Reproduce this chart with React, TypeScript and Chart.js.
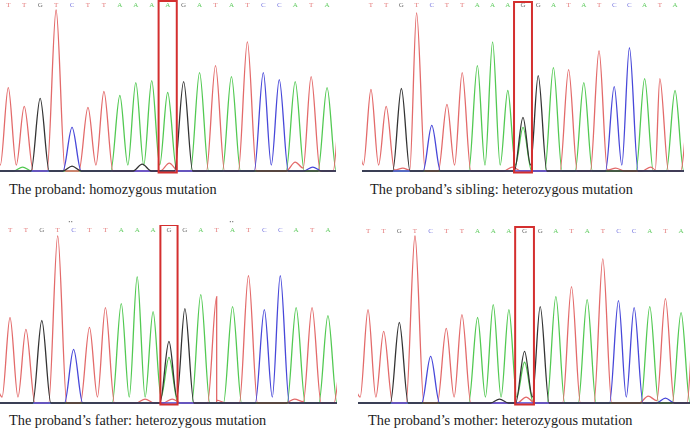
import React, { useEffect, useRef } from 'react';
import { Chart, registerables } from 'chart.js';

Chart.register(...registerables);

// ---- data (21 bases shown in each trace) ----
const probandCalls = ['T', 'T', 'G', 'T', 'C', 'T', 'T', 'A', 'A', 'A', 'A', 'G', 'A', 'T', 'A', 'T', 'C', 'C', 'A', 'T', 'A'];
const carrierCalls = ['T', 'T', 'G', 'T', 'C', 'T', 'T', 'A', 'A', 'A', 'G', 'G', 'A', 'T', 'A', 'T', 'C', 'C', 'A', 'T', 'A'];

// main peak heights (signal units) under each called base
const probandPeaks = [84, 65, 73, 162, 44, 64, 80, 76, 89, 91, 79, 90, 99, 106, 95, 130, 99, 92, 90, 95, 84];
const siblingPeaks = [82, 65, 83, 159, 46, 67, 99, 106, 130, 81, 54, 96, 104, 102, 89, 121, 85, 124, 93, 93, 81];
const fatherPeaks = [86, 74, 83, 168, 54, 76, 96, 100, 127, 92, 62, 95, 109, 107, 97, 128, 94, 128, 96, 96, 88];
const motherPeaks = [94, 72, 81, 168, 47, 75, 89, 86, 99, 94, 52, 97, 107, 117, 104, 145, 103, 96, 97, 105, 91];

// secondary / background peaks: [position, base, height]
const probandMinor: [number, string, number][] = [
  [-1, 'T', 30], [0.9, 'A', 4], [4, 'G', 5], [8.4, 'G', 7], [10.1, 'T', 8], [18, 'T', 9], [19.1, 'C', 4], [20.95, 'T', 90],
];
const siblingMinor: [number, string, number][] = [
  [-1, 'T', 40], [10, 'A', 44], [2.1, 'T', 3], [9.3, 'T', 4], [16.1, 'T', 3], [18.4, 'T', 4], [20.95, 'T', 70],
];
const fatherMinor: [number, string, number][] = [
  [-1, 'T', 20], [10, 'A', 46], [8.5, 'T', 4], [10.2, 'T', 4], [13, 'T', 3], [17.9, 'T', 4], [20.95, 'T', 60],
];
const motherMinor: [number, string, number][] = [
  [-1, 'T', 18], [10, 'A', 41], [8.4, 'G', 4], [10.1, 'T', 6], [17.9, 'T', 7], [19, 'C', 5], [20.95, 'T', 120],
];

const captions = [
  'The proband: homozygous mutation',
  'The proband\u2019s sibling: heterozygous mutation',
  'The proband\u2019s father: heterozygous mutation',
  'The proband\u2019s mother: heterozygous mutation',
];

const mutationIndex = 10;

// ---- styling ----
const TRACE_COLORS: Record<string, string> = { G: '#333333', C: '#4747d9', T: '#e36a6a', A: '#52c952' };
const LETTER_COLORS: Record<string, string> = { G: '#6e6e6e', C: '#7a7ae0', T: '#e47a7a', A: '#62cc62' };
const CHANNEL_ORDER = ['G', 'C', 'T', 'A']; // first drawn on top
const HALF_WIDTH = 0.57;
const VALLEY = 6;

type Pt = { x: number; y: number };

function buildTrace(calls: string[], peaks: number[], minor: [number, string, number][], base: string, xMin: number, xMax: number): Pt[] {
  const list: { x: number; h: number }[] = [];
  calls.forEach((b, i) => {
    if (b === base) list.push({ x: i, h: peaks[i] });
  });
  minor.forEach(([x, b, h]) => {
    if (b === base) list.push({ x, h });
  });
  list.sort((a, b) => a.x - b.x);
  const pts: Pt[] = [{ x: xMin - 2, y: 0 }];
  let prev: { x: number; h: number } | null = null;
  for (const p of list) {
    if (prev && p.x - prev.x < 2 * HALF_WIDTH) {
      pts.push({ x: (prev.x + p.x) / 2, y: Math.min(VALLEY, prev.h / 3, p.h / 3) });
    } else {
      if (prev) pts.push({ x: prev.x + HALF_WIDTH, y: 0 });
      pts.push({ x: p.x - HALF_WIDTH, y: 0 });
    }
    pts.push({ x: p.x, y: p.h });
    prev = p;
  }
  if (prev) pts.push({ x: prev.x + HALF_WIDTH, y: 0 });
  pts.push({ x: xMax + 2, y: 0 });
  return pts;
}

const boxPlugin = {
  id: 'mutationBox',
  afterDatasetsDraw(chart: any, _args: any, opts: any) {
    const { ctx, scales } = chart;
    const x = scales.x;
    const y = scales.y;
    const l = x.getPixelForValue(opts.center - opts.half);
    const r = x.getPixelForValue(opts.center + opts.half);
    const t = x.top + opts.topInset;
    const b = y.getPixelForValue(-1.5);
    ctx.save();
    ctx.strokeStyle = '#d42f2f';
    ctx.lineWidth = 2;
    ctx.strokeRect(l, t, r - l, b - t);
    ctx.restore();
  },
};

type PanelProps = {
  calls: string[];
  peaks: number[];
  minor: [number, string, number][];
  left: number;
  top: number;
  width: number;
  height: number;
  xMin: number;
  xMax: number;
  yMax: number;
  boxHalf: number;
  boxTop: number;
};

function Trace(props: PanelProps) {
  const ref = useRef<HTMLCanvasElement>(null);
  useEffect(() => {
    const { calls, peaks, minor, xMin, xMax, yMax, boxHalf, boxTop } = props;
    const datasets = CHANNEL_ORDER.map((base) => ({
      label: base,
      data: buildTrace(calls, peaks, minor, base, xMin, xMax),
      borderColor: TRACE_COLORS[base],
      borderWidth: 1.3,
      pointRadius: 0,
      fill: false,
      cubicInterpolationMode: 'monotone' as const,
      clip: { left: 0, right: 0, top: false, bottom: 3 } as any,
    }));
    const chart = new Chart(ref.current as HTMLCanvasElement, {
      type: 'line',
      data: { datasets },
      plugins: [boxPlugin],
      options: {
        responsive: false,
        animation: false,
        devicePixelRatio: 1,
        events: [],
        layout: { padding: 0 },
        scales: {
          x: {
            type: 'linear',
            position: 'top',
            min: xMin,
            max: xMax,
            afterBuildTicks: (axis: any) => {
              axis.ticks = calls.map((_, i) => ({ value: i }));
            },
            grid: { display: false, drawTicks: false },
            border: { display: false },
            ticks: {
              autoSkip: false,
              maxRotation: 0,
              padding: 1,
              font: { size: 7, family: 'Liberation Serif' },
              color: (c: any) => LETTER_COLORS[calls[c.index]] || '#888',
              callback: (v: any) => calls[v as number] ?? '',
            },
          },
          y: { type: 'linear', display: false, min: -3, max: yMax },
        },
        plugins: {
          legend: { display: false },
          tooltip: { enabled: false },
          mutationBox: { center: mutationIndex, half: boxHalf, topInset: boxTop },
        } as any,
      },
    });
    return () => chart.destroy();
  }, []);
  return (
    <canvas
      ref={ref}
      width={props.width}
      height={props.height}
      style={{ position: 'absolute', left: props.left, top: props.top, width: props.width, height: props.height }}
    />
  );
}

const captionStyle: React.CSSProperties = {
  position: 'absolute',
  fontFamily: '"Liberation Serif", "Times New Roman", serif',
  fontSize: 14.3,
  lineHeight: '16px',
  color: '#1c1c1c',
  whiteSpace: 'nowrap',
};

export default function App() {
  return (
    <div style={{ position: 'fixed', left: 0, top: 0, width: 698, height: 432, background: '#ffffff', overflow: 'hidden' }}>
      <Trace calls={probandCalls} peaks={probandPeaks} minor={probandMinor} left={0} top={0} width={336} height={174} xMin={-0.52} xMax={20.56} yMax={161.6} boxHalf={0.57} boxTop={1} />
      <Trace calls={carrierCalls} peaks={siblingPeaks} minor={siblingMinor} left={362} top={0} width={322} height={174} xMin={-0.59} xMax={20.59} yMax={161.6} boxHalf={0.59} boxTop={2} />
      <Trace calls={carrierCalls} peaks={fatherPeaks} minor={fatherMinor} left={0} top={225} width={337} height={181} xMin={-0.63} xMax={20.57} yMax={168.6} boxHalf={0.54} boxTop={0} />
      <Trace calls={carrierCalls} peaks={motherPeaks} minor={motherMinor} left={358} top={226} width={332} height={180} xMin={-0.64} xMax={20.57} yMax={167.6} boxHalf={0.6} boxTop={1} />
      <div style={{ ...captionStyle, left: 9, top: 181 }}>{captions[0]}</div>
      <div style={{ ...captionStyle, left: 370, top: 181 }}>{captions[1]}</div>
      <div style={{ ...captionStyle, left: 9, top: 412 }}>{captions[2]}</div>
      <div style={{ ...captionStyle, left: 368, top: 412 }}>{captions[3]}</div>
      <div style={{ position: 'absolute', left: 68, top: 218, fontSize: 8, color: '#555', fontFamily: 'DejaVu Sans' }}>··</div>
      <div style={{ position: 'absolute', left: 229, top: 218, fontSize: 8, color: '#555', fontFamily: 'DejaVu Sans' }}>··</div>
    </div>
  );
}
